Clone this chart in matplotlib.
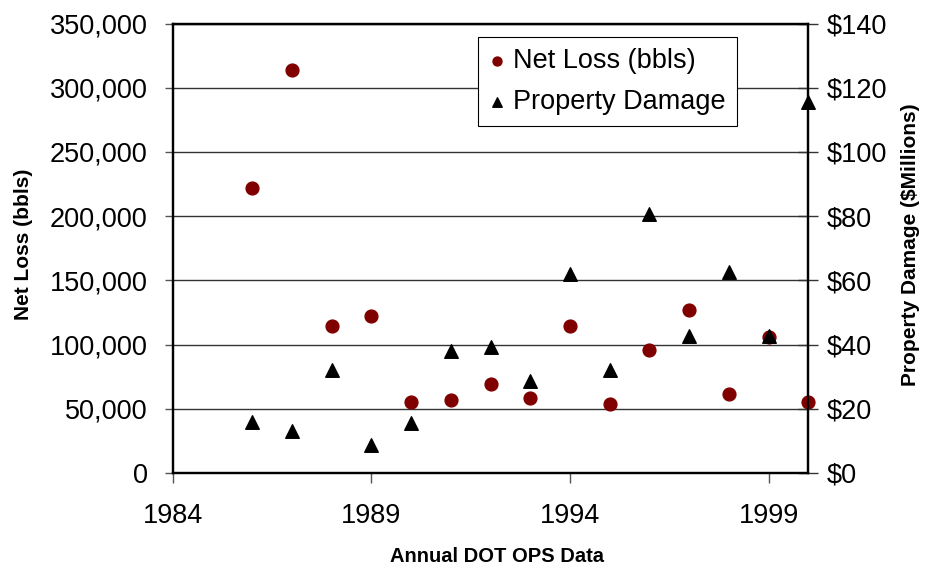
import matplotlib
matplotlib.use("Agg")
import matplotlib.pyplot as plt
from matplotlib.ticker import FuncFormatter

# datos
years = [1986, 1987, 1988, 1989, 1990, 1991, 1992, 1993, 1994, 1995, 1996, 1997, 1998, 1999, 2000]
net_loss = [221700, 313500, 114500, 122300, 55200, 56800, 69300, 58300, 114400, 53600,
            95600, 126900, 61500, 105600, 55200]
property_damage = [16.0, 13.1, 32.2, 8.6, 15.4, 37.9, 39.2, 28.5, 62.1, 32.2,
                   80.8, 42.8, 62.7, 42.6, 115.5]

plt.rcParams['font.family'] = ['Liberation Sans', 'DejaVu Sans']

fig = plt.figure(figsize=(9.29, 5.68), dpi=100)
ax1 = fig.add_axes([0.1859, 0.1674, 0.6842, 0.7912])
ax2 = ax1.twinx()

ax1.scatter(years, net_loss, s=85, color='#800000', marker='o', zorder=3,
            clip_on=False, label='Net Loss (bbls)')
ax2.scatter(years, property_damage, s=95, color='black', marker='^', zorder=3,
            clip_on=False, label='Property Damage')

ax1.set_xlim(1984, 2000)
ax1.set_ylim(0, 350000)
ax2.set_ylim(0, 140)
ax1.set_xticks([1984, 1989, 1994, 1999])
ax1.set_yticks(range(0, 350001, 50000))
ax2.set_yticks(range(0, 141, 20))
ax1.yaxis.set_major_formatter(FuncFormatter(lambda v, p: f'{int(v):,}'))
ax2.yaxis.set_major_formatter(FuncFormatter(lambda v, p: f'${int(v)}'))

ax1.grid(axis='y', color='#333333', linewidth=1.0)
ax1.set_axisbelow(True)

for ax in (ax1, ax2):
    for s in ax.spines.values():
        s.set_linewidth(1.6)
        s.set_color('black')
ax1.tick_params(axis='y', labelsize=19.5, length=6, width=1.0, direction='out',
                color='#555555', pad=12)
ax1.tick_params(axis='x', labelsize=19.5, length=7, width=1.0, direction='out',
                color='#555555', pad=15)
ax2.tick_params(axis='y', labelsize=19.5, length=14, width=1.0, direction='inout',
                color='#333333', pad=6)

# etiquetas de ejes
fig.text(24 / 929, 1 - 244 / 568, 'Net Loss (bbls)', rotation=90, ha='center', va='center',
         fontsize=15, fontweight='bold')
fig.text(911 / 929, 1 - 245 / 568, 'Property Damage ($Millions)', rotation=90, ha='center',
         va='center', fontsize=15, fontweight='bold')
fig.text(497 / 929, 1 - 556 / 568, 'Annual DOT OPS Data', ha='center', va='center',
         fontsize=14.5, fontweight='bold')

h1, l1 = ax1.get_legend_handles_labels()
h2, l2 = ax2.get_legend_handles_labels()
leg = ax2.legend(h1 + h2, l1 + l2, loc='upper left', bbox_to_anchor=(0.4803, 0.970),
                 fontsize=19.5, frameon=True, fancybox=False, edgecolor='black',
                 handletextpad=0.3, borderpad=0.4, labelspacing=0.55, handlelength=0.6,
                 borderaxespad=0, markerscale=0.7, framealpha=1)
leg.get_frame().set_linewidth(0.8)
leg.set_zorder(10)

plt.savefig('out.png', dpi=100)
plt.close()
